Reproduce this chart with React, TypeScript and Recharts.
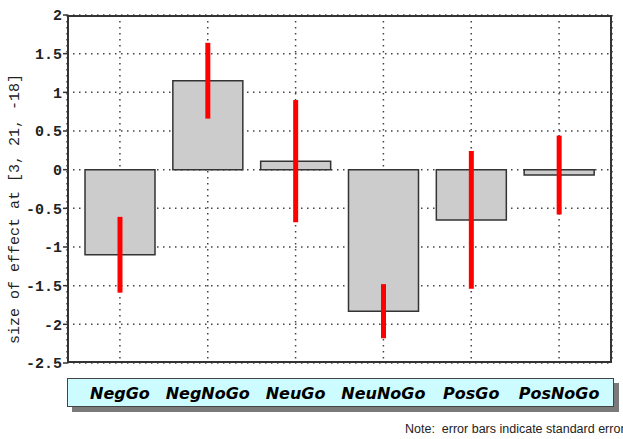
import { BarChart, Bar, XAxis, YAxis, CartesianGrid, ErrorBar } from 'recharts'

const CONDITIONS = ['NegGo', 'NegNoGo', 'NeuGo', 'NeuNoGo', 'PosGo', 'PosNoGo']
const EFFECT = [-1.1, 1.15, 0.11, -1.83, -0.65, -0.07]
const STD_ERR = [0.49, 0.49, 0.79, 0.35, 0.89, 0.51]
const Y_TICKS = [-2.5, -2, -1.5, -1, -0.5, 0, 0.5, 1, 1.5, 2]

const data = CONDITIONS.map((c, i) => ({ name: c, effect: EFFECT[i], se: STD_ERR[i] }))

const MONO = '"Liberation Mono", "DejaVu Sans Mono", monospace'

function CondTick(props: any) {
  const { x, y, payload } = props
  return (
    <g>
      <text
        x={x}
        y={y + 34}
        textAnchor="middle"
        fontFamily='"DejaVu Sans", sans-serif'
        fontWeight="bold"
        fontStyle="italic"
        fontSize={16}
        fill="#000"
      >
        {payload.value}
      </text>
    </g>
  )
}

function YLabel() {
  return (
    <text
      x={15}
      y={209}
      transform="rotate(-90 15 209)"
      textAnchor="middle"
      dominantBaseline="central"
      fontFamily={MONO}
      fontSize={15}
      fill="#222"
    >
      size of effect at [3, 21, -18]
    </text>
  )
}

export default function App() {
  return (
    <div style={{ position: 'absolute', left: 0, top: 0, width: 623, height: 439, overflow: 'hidden', background: '#fff' }}>
      {/* label strip behind the category names */}
      <div style={{ position: 'absolute', left: 72, top: 383, width: 547, height: 29, background: '#7a7a7a' }} />
      <div style={{ position: 'absolute', left: 67, top: 378, width: 547, height: 29, boxSizing: 'border-box', background: '#ccfcff', border: '1.5px solid #444' }} />
      <BarChart width={623} height={439} data={data} margin={{ top: 15, right: 11, left: 0, bottom: 36 }}>
        <CartesianGrid stroke="#444" strokeWidth={1.5} strokeDasharray="1.5 4.5" />
        <XAxis
          dataKey="name"
          height={40}
          padding={{ left: 9, right: 9 }}
          axisLine={false}
          tickLine={false}
          tickSize={0}
          tick={<CondTick />}
          interval={0}
        />
        <YAxis
          width={67}
          domain={[-2.5, 2]}
          ticks={Y_TICKS}
          axisLine={false}
          tickLine={{ stroke: '#333', strokeWidth: 1.5 }}
          tickSize={4}
          tickMargin={1}
          tick={{ fontFamily: MONO, fontWeight: 'bold', fontSize: 15, fill: '#222' }}
          label={<YLabel />}
        />
        <Bar dataKey="effect" barSize={70} fill="#cccccc" stroke="#333" strokeWidth={1.5} isAnimationActive={false}>
          <ErrorBar dataKey="se" width={0} strokeWidth={5} stroke="#ff0000" isAnimationActive={false} />
        </Bar>
      </BarChart>
      <div style={{ position: 'absolute', left: 67, top: 15, width: 545, height: 348, boxSizing: 'border-box', border: '2px solid #333', pointerEvents: 'none' }} />
      <div style={{ position: 'absolute', left: 405, top: 422, whiteSpace: 'pre', fontFamily: '"Liberation Sans", Arial, sans-serif', fontSize: 12.5, color: '#222' }}>
        Note:  error bars indicate standard error
      </div>
    </div>
  )
}
